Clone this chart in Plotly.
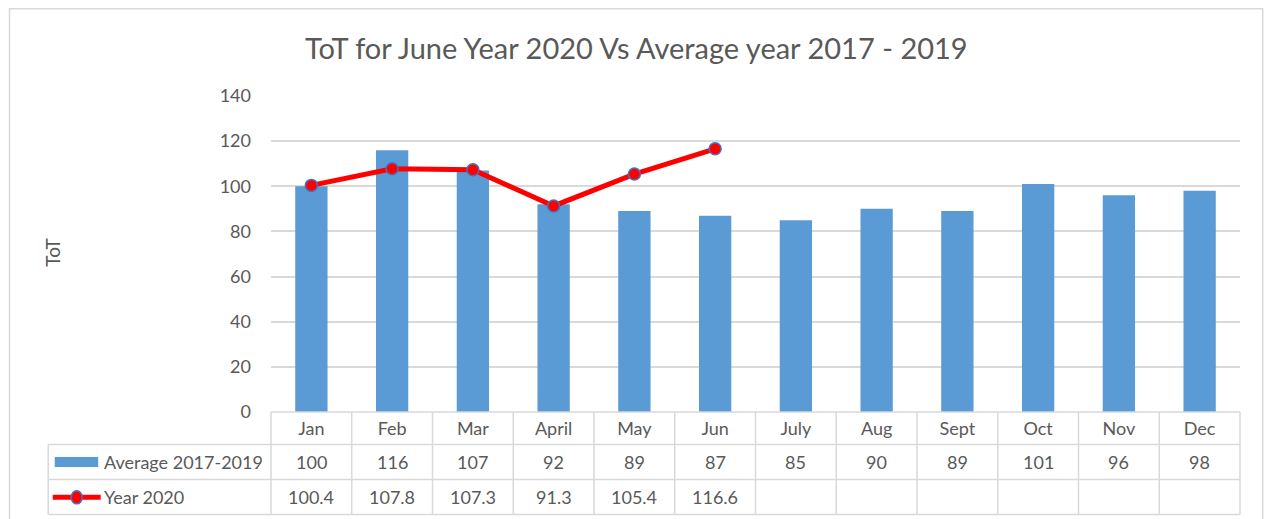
import plotly.graph_objects as go

months = ["Jan", "Feb", "Mar", "April", "May", "Jun", "July", "Aug", "Sept", "Oct", "Nov", "Dec"]
avg_2017_2019 = [100, 116, 107, 92, 89, 87, 85, 90, 89, 101, 96, 98]
year_2020 = [100.4, 107.8, 107.3, 91.3, 105.4, 116.6, None, None, None, None, None, None]
year_2020_labels = ["100.4", "107.8", "107.3", "91.3", "105.4", "116.6", "", "", "", "", "", ""]
series_names = ["Average 2017-2019", "Year 2020"]
title_text = "ToT for June Year 2020 Vs Average year 2017 - 2019"
y_title = "ToT"

# page has an 8px body margin, so the figure is drawn 8px in and coordinates are shifted
OFF = 8
W, H = 1272 - 2 * OFF, 519 - OFF
PL, PR, PT, PB = 270.5, 1240.5, 96.0, 412.0  # plot area in page pixels
FONT = "Lato"
GRAY = "#595959"
GRID = "#d9d9d9"
BAR = "#5B9BD5"
RED = "#FF0000"
EDGE = "#4472C4"
FS = 18


def px(xp):
    return (xp - PL) / (PR - PL)


def py(yp):
    return (PB - yp) / (PB - PT)


fig = go.Figure()
fig.add_trace(go.Bar(x=months, y=avg_2017_2019, name=series_names[0],
                     marker=dict(color=BAR, line=dict(width=0)), showlegend=False))
fig.add_trace(go.Scatter(x=months, y=year_2020, name=series_names[1], mode="lines+markers",
                         line=dict(color=RED, width=5),
                         marker=dict(size=12, color=RED, line=dict(color=EDGE, width=1.5)),
                         showlegend=False, cliponaxis=False))

shapes = []
line_style = dict(color=GRID, width=1.5)
# outer chart border
shapes.append(dict(type="rect", xref="paper", yref="paper", x0=px(OFF + 0.75), x1=px(OFF + W - 0.75),
                   y0=py(OFF + 0.75), y1=py(600),
                   line=dict(color=GRID, width=1.5), fillcolor="rgba(0,0,0,0)", layer="below"))
# table horizontal lines
shapes.append(dict(type="line", xref="paper", yref="paper", x0=px(PL), x1=px(PR), y0=py(412), y1=py(412), line=line_style))
for yy in [444.5, 479.5, 514.5]:
    shapes.append(dict(type="line", xref="paper", yref="paper", x0=px(47.5), x1=px(PR), y0=py(yy), y1=py(yy), line=line_style))
# table vertical lines
shapes.append(dict(type="line", xref="paper", yref="paper", x0=px(47.5), x1=px(47.5), y0=py(444.5), y1=py(514.5), line=line_style))
for i in range(len(months) + 1):
    xx = PL + (PR - PL) * i / len(months)
    shapes.append(dict(type="line", xref="paper", yref="paper", x0=px(xx), x1=px(xx), y0=py(412), y1=py(514.5), line=line_style))
# legend keys inside table
shapes.append(dict(type="rect", xref="paper", yref="paper", x0=px(54), x1=px(97.5), y0=py(457), y1=py(467),
                   line=dict(width=0), fillcolor=BAR))
shapes.append(dict(type="line", xref="paper", yref="paper", x0=px(52), x1=px(100), y0=py(497.3), y1=py(497.3),
                   line=dict(color=RED, width=5)))
shapes.append(dict(type="circle", xref="paper", yref="paper", x0=px(70.5), x1=px(81.5), y0=py(490.8), y1=py(503.8),
                   line=dict(color=EDGE, width=1.5), fillcolor=RED))

annotations = []
tf = dict(family=FONT, size=FS, color=GRAY)
annotations.append(dict(text=series_names[0], xref="paper", yref="paper", x=px(101.5), y=py(462),
                        xanchor="left", yanchor="middle", showarrow=False, font=tf))
annotations.append(dict(text=series_names[1], xref="paper", yref="paper", x=px(101.5), y=py(497),
                        xanchor="left", yanchor="middle", showarrow=False, font=tf))
for m, v in zip(months, avg_2017_2019):
    annotations.append(dict(text=str(v), xref="x", yref="paper", x=m, y=py(462), xanchor="center", yanchor="middle",
                            showarrow=False, font=tf))
for m, t in zip(months, year_2020_labels):
    if t:
        annotations.append(dict(text=t, xref="x", yref="paper", x=m, y=py(497), xanchor="center", yanchor="middle",
                                showarrow=False, font=tf))
annotations.append(dict(text=y_title, xref="paper", yref="paper", x=px(51), y=py(252), textangle=-90,
                        xanchor="center", yanchor="middle", showarrow=False, font=dict(family=FONT, size=19, color=GRAY)))
annotations.append(dict(text=title_text, xref="paper", yref="paper", x=px(636), y=py(47),
                        xanchor="center", yanchor="middle", showarrow=False, font=dict(family=FONT, size=29, color=GRAY)))

fig.update_layout(
    width=W, height=H,
    margin=dict(l=PL - OFF, r=(OFF + W) - PR, t=PT - OFF, b=(OFF + H) - PB, pad=0),
    paper_bgcolor="white", plot_bgcolor="white",
    bargap=0.6,
    shapes=shapes, annotations=annotations,
    font=dict(family=FONT, color=GRAY, size=FS),
    xaxis=dict(type="category", range=[-0.5, len(months) - 0.5], autorange=False,
               showgrid=False, zeroline=False, showline=False, ticks="",
               tickfont=dict(family=FONT, size=FS, color=GRAY), ticklabelstandoff=4, fixedrange=True),
    yaxis=dict(range=[0, 140], dtick=20, showgrid=True, gridcolor=GRID, gridwidth=1.5, zeroline=False,
               showline=False, ticks="", tickfont=dict(family=FONT, size=FS, color=GRAY),
               ticklabelstandoff=19, fixedrange=True),
)

fig.write_html("out.html")
